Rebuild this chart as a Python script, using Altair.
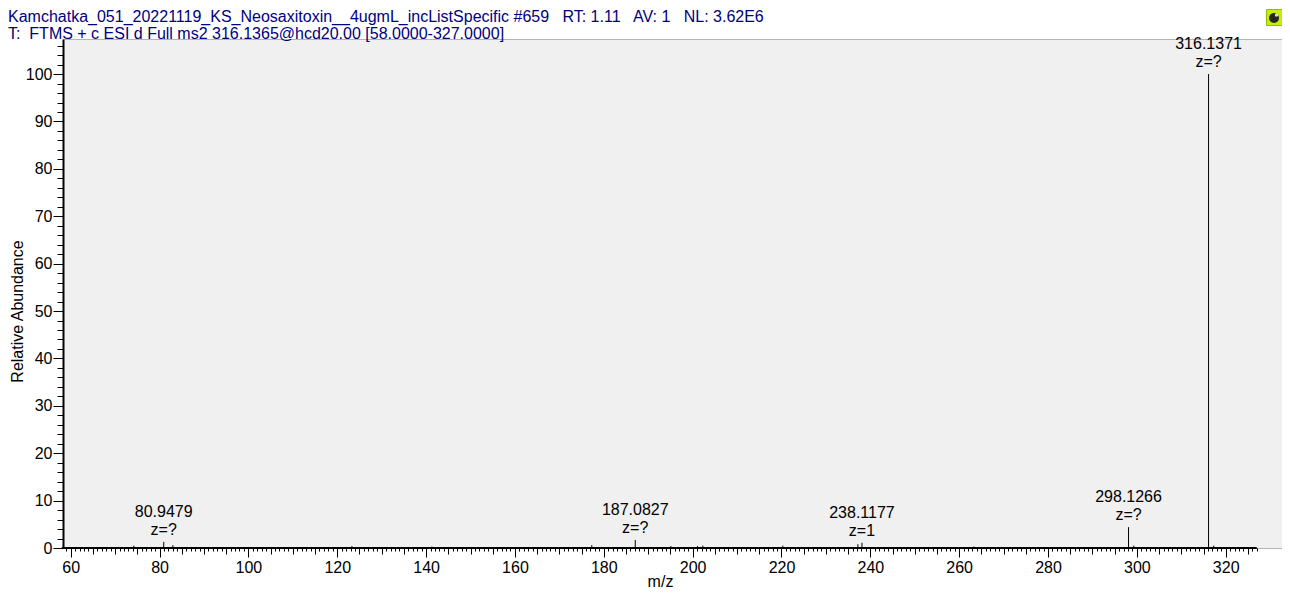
import altair as alt
import pandas as pd

# ---------------- data ----------------
peak_mz = [74.2, 80.9479, 83.0, 117.9, 123.3, 124.3, 126.2, 132.3, 141.3,
           166.3, 177.3, 180.4, 182.0, 187.0827, 195.1, 201.1, 202.3, 211.5,
           216.5, 220.3, 237.2, 238.1177, 263.3, 272.0, 298.1266, 299.3,
           316.1371, 317.3]
peak_int = [0.5, 1.3, 0.6, 0.2, 0.4, 0.2, 0.2, 0.2, 0.3,
            0.2, 0.6, 0.2, 0.2, 1.7, 0.4, 0.4, 0.5, 0.1,
            0.2, 0.5, 0.8, 1.1, 0.3, 0.2, 4.4, 0.5,
            100.0, 0.5]

label_mz = [80.9479, 187.0827, 238.1177, 298.1266, 316.1371]
label_int = [1.3, 1.7, 1.1, 4.4, 100.0]
label_mass = ["80.9479", "187.0827", "238.1177", "298.1266", "316.1371"]
label_charge = ["z=?", "z=?", "z=1", "z=?", "z=?"]

x_minor_ticks = list(range(59, 328))
x_mid_ticks = list(range(60, 328, 5))
x_major_ticks = list(range(60, 328, 20))
y_minor_ticks = list(range(0, 107, 2))
y_major_ticks = list(range(0, 101, 10))
x_axis_range = [58, 327]
x_domain = [58.27, 332.67]
y_domain = [0, 107.4]

title_lines = [
    "Kamchatka_051_20221119_KS_Neosaxitoxin__4ugmL_incListSpecific #659\u00a0\u00a0 RT: 1.11\u00a0\u00a0 AV: 1\u00a0\u00a0 NL: 3.62E6",
    "T:\u00a0 FTMS + c ESI d Full ms2 316.1365@hcd20.00 [58.0000-327.0000]",
]

FONT = "Liberation Sans"

peaks = pd.DataFrame({"mz": peak_mz, "intensity": peak_int,
                      "base": [0.0] * len(peak_mz)})
labels = pd.DataFrame({"mz": label_mz, "intensity": label_int,
                       "mass": label_mass, "z": label_charge})
axis_df = pd.DataFrame({"x": [x_axis_range[0]], "x2": [x_axis_range[1]],
                        "base": [0.0]})

xscale = alt.Scale(domain=x_domain, nice=False, zero=False)
yscale = alt.Scale(domain=y_domain, nice=False, zero=False)

common = dict(grid=False, tickColor="black", tickWidth=1,
              labelFont=FONT, labelFontSize=16, labelColor="black",
              labelOverlap=False, labelFlush=False,
              titleFont=FONT, titleFontSize=16, titleFontWeight="normal",
              titleColor="black")

x_minor_axis = alt.Axis(values=x_minor_ticks, tickSize=3, labels=False,
                        domain=False, orient="bottom", **common)
x_mid_axis = alt.Axis(values=x_mid_ticks, tickSize=6, labels=False,
                      domain=False, orient="bottom", **common)
x_major_axis = alt.Axis(values=x_major_ticks, tickSize=9, labels=True,
                        labelPadding=2, domain=False, orient="bottom",
                        titleX=597, titleY=38, titleBaseline="alphabetic",
                        titleAlign="center", **common)

y_minor_axis = alt.Axis(values=y_minor_ticks, tickSize=6, labels=False,
                        domain=True, domainColor="black", domainWidth=2,
                        orient="left", **common)
y_major_axis = alt.Axis(values=y_major_ticks, tickSize=10, labels=True,
                        labelPadding=1, domain=False, orient="left",
                        titleX=-46, titleY=272, titleBaseline="middle",
                        titleAlign="center", titleAngle=270, **common)

sticks = alt.Chart(peaks).mark_rule(color="black", strokeWidth=1).encode(
    x=alt.X("mz:Q", scale=xscale, axis=x_minor_axis, title=""),
    y=alt.Y("intensity:Q", scale=yscale, axis=y_minor_axis, title=""),
    y2="base:Q",
)

axis_line = alt.Chart(axis_df).mark_rule(color="black", strokeWidth=2).encode(
    x=alt.X("x:Q", scale=xscale, axis=x_mid_axis, title=""),
    x2="x2:Q",
    y=alt.Y("base:Q", scale=yscale, axis=y_major_axis,
            title="Relative Abundance"),
)

mass_text = alt.Chart(labels).mark_text(
    font=FONT, fontSize=16, color="black", baseline="alphabetic", dy=-25
).encode(
    x=alt.X("mz:Q", scale=xscale, axis=x_major_axis, title="m/z"),
    y=alt.Y("intensity:Q", scale=yscale, axis=None),
    text="mass:N",
)

z_text = alt.Chart(labels).mark_text(
    font=FONT, fontSize=16, color="black", baseline="alphabetic", dy=-7
).encode(
    x=alt.X("mz:Q", scale=xscale, axis=None),
    y=alt.Y("intensity:Q", scale=yscale, axis=None),
    text="z:N",
)

icon_df = pd.DataFrame({"k": [0]})
icon_box = alt.Chart(icon_df).mark_square(
    size=256, fill="#c6ee00", stroke="#8fc000", strokeWidth=1, opacity=1
).encode(x=alt.value(1211.5), y=alt.value(-21.5))
icon_ball = alt.Chart(icon_df).mark_circle(
    size=100, fill="#262626", opacity=1
).encode(x=alt.value(1211), y=alt.value(-21))
icon_glint = alt.Chart(icon_df).mark_circle(
    size=12, fill="#d8d8d8", opacity=1
).encode(x=alt.value(1213.5), y=alt.value(-24))

chart = alt.layer(
    sticks, axis_line, mass_text, z_text, icon_box, icon_ball, icon_glint
).resolve_scale(
    x="shared", y="shared"
).resolve_axis(
    x="independent", y="independent"
).properties(
    width=1219,
    height=509,
    padding={"left": 55, "top": 31, "right": 0, "bottom": 42},
    autosize=alt.AutoSizeParams(type="none"),
    title=alt.TitleParams(
        text=title_lines, anchor="start", frame="group", orient="top",
        dx=-55, dy=34, offset=0, font=FONT, fontSize=16,
        fontWeight="normal", color="#000080", lineHeight=17,
    ),
).configure_view(
    fill="#f0f0f0", stroke="#b4b4b4", strokeWidth=1
)

chart.save("out.html", embed_options={"renderer": "svg", "actions": False})
